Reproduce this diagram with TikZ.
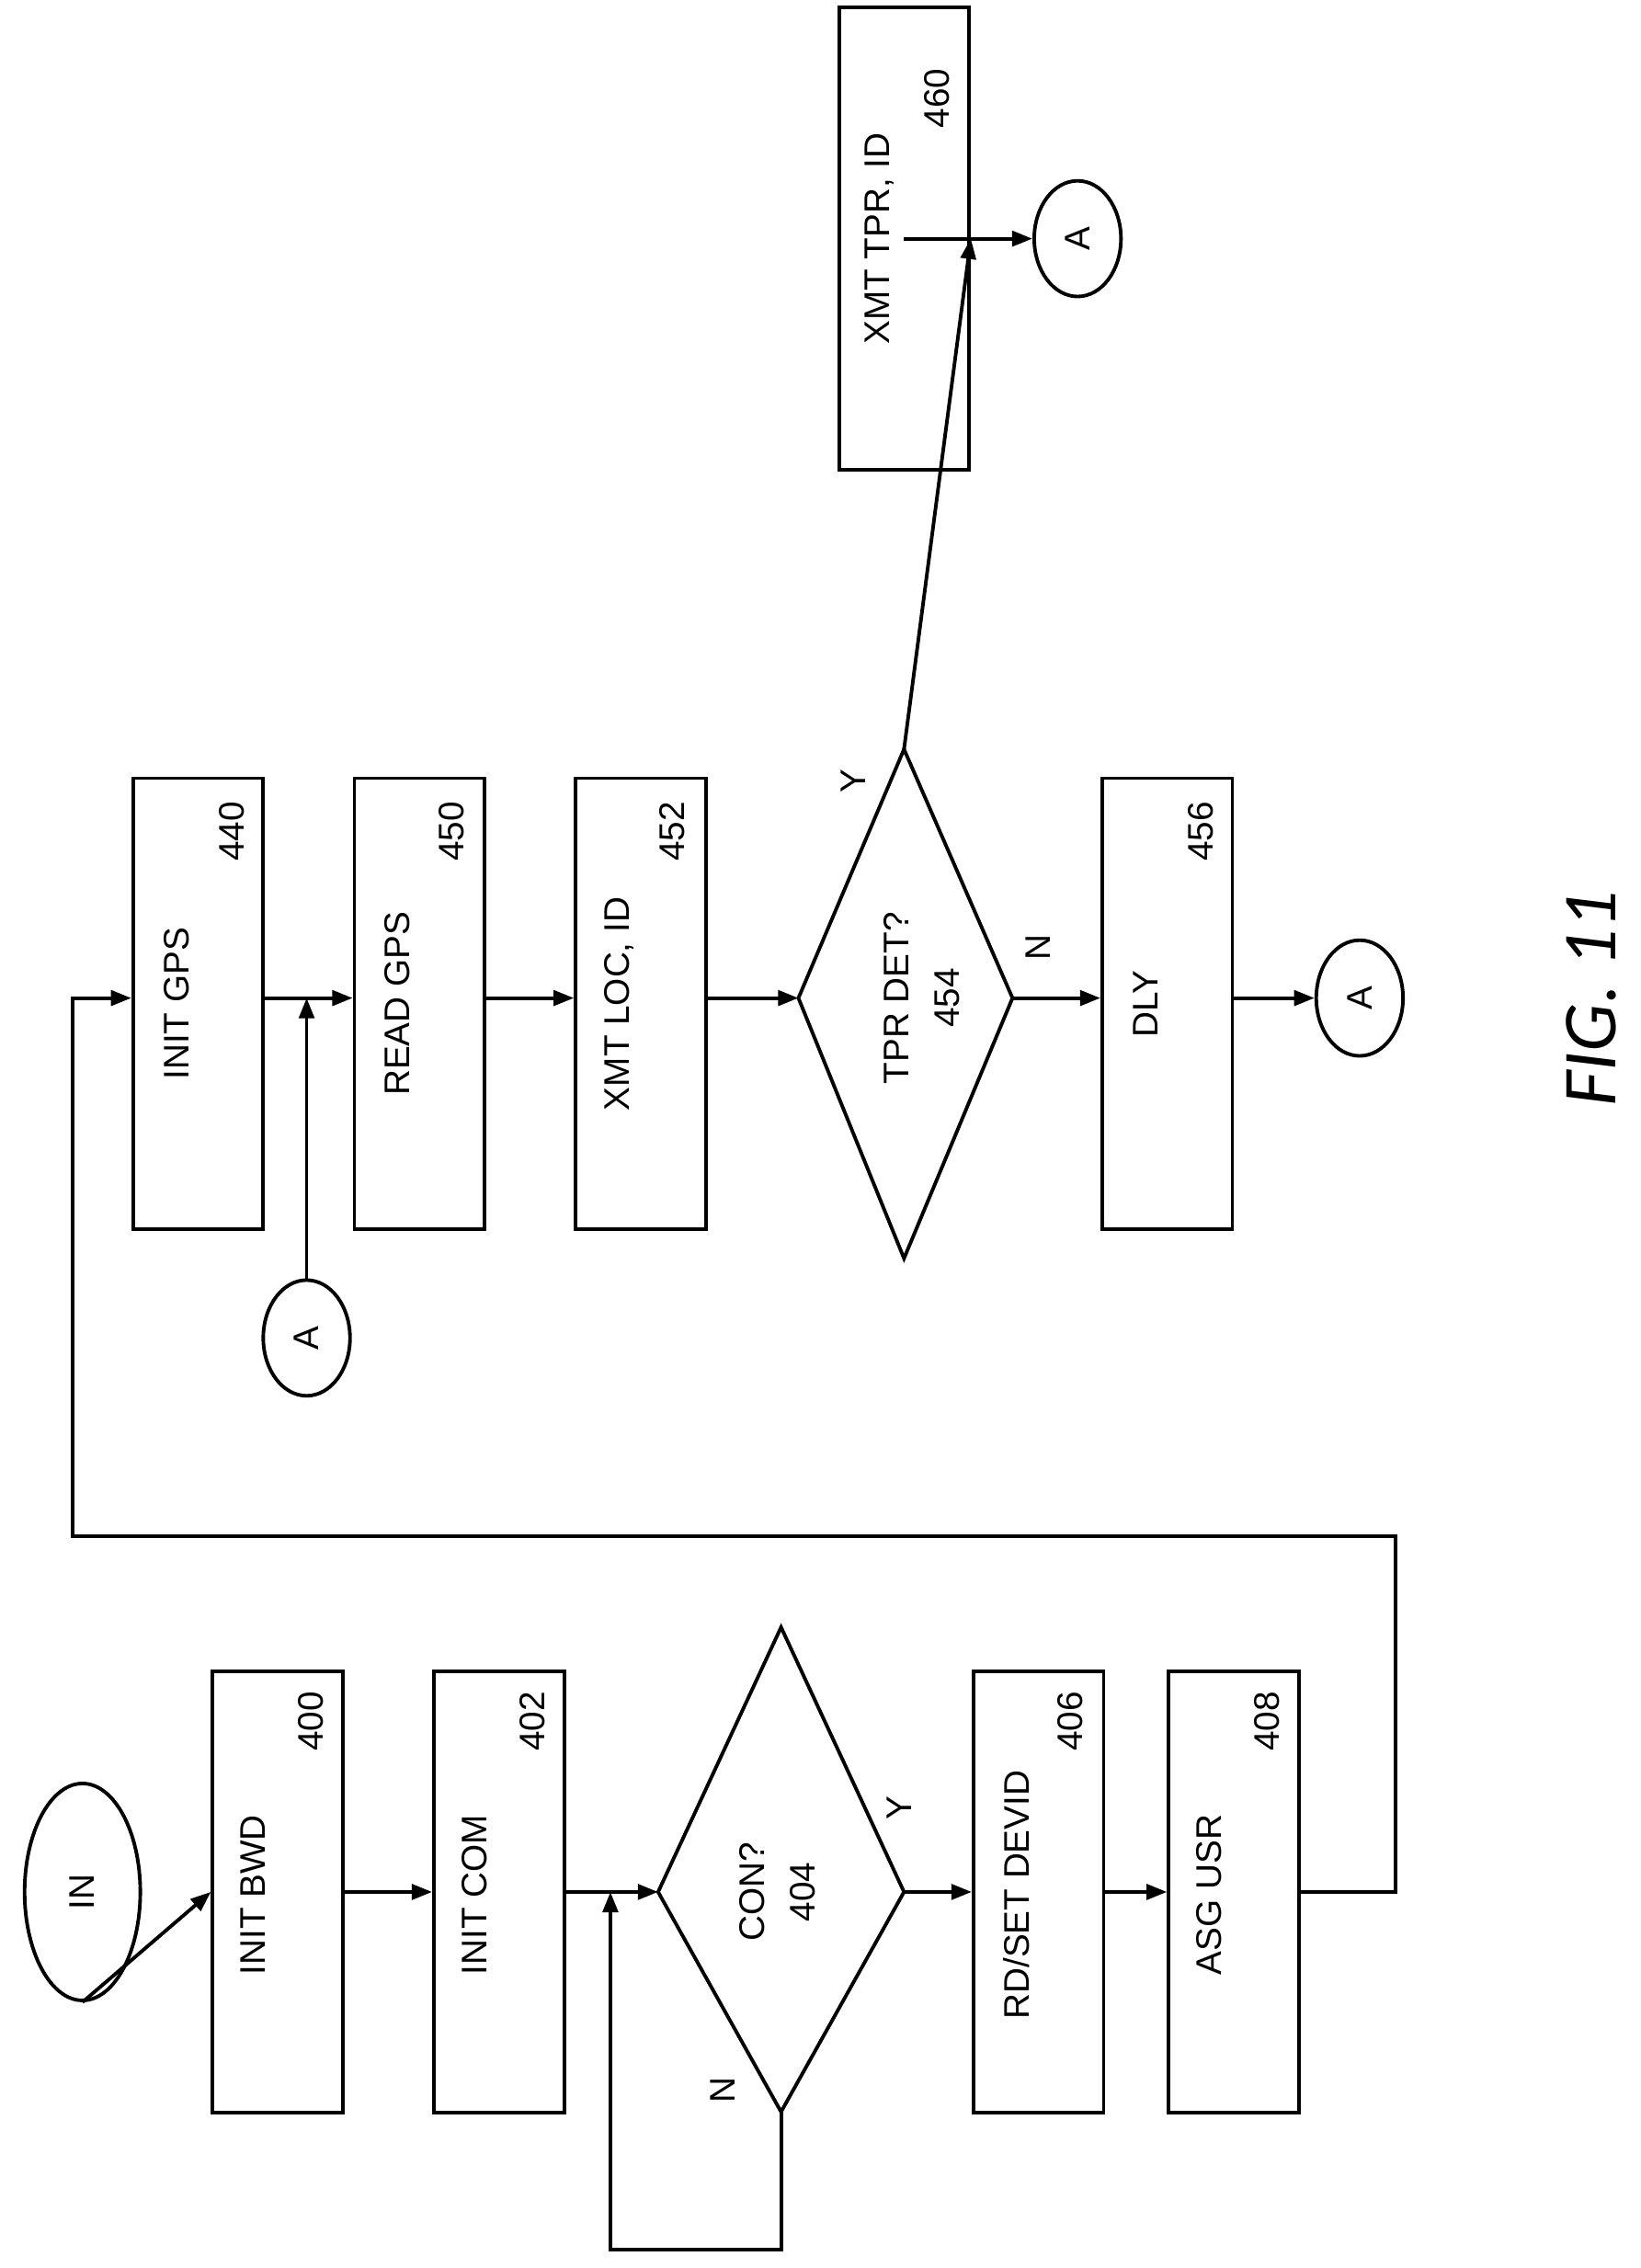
\documentclass[tikz,border=0pt]{standalone}
\usepackage{fontspec}
\setmainfont{Liberation Sans}
\newfontfamily\figfont{Carlito}
\usetikzlibrary{shapes.geometric,arrows.meta}
\begin{document}
\begin{tikzpicture}[x=0.02cm,y=-0.02cm,line width=1.4pt,
  txt/.style={rotate=90,font=\fontsize{14}{16}\selectfont,inner sep=0},
  arr/.style={-{Triangle[length=8pt,width=6pt]}},
  box/.style={draw,minimum width=1.8cm,minimum height=6.1cm}]
\useasboundingbox (0,0) rectangle (1134,1568);
% left column
\node[draw,ellipse,minimum width=1.6cm,minimum height=3cm] (in) at (57,1308) {};
\node[txt] at (57,1308) {IN};
\node[box] (b400) at (192,1308) {};
\node[txt] at (175,1310) {INIT BWD};
\node[txt] at (215,1190) {400};
\node[box] (b402) at (345,1308) {};
\node[txt] at (328,1310) {INIT COM};
\node[txt] at (368,1190) {402};
\coordinate (dt) at (540,1125); \coordinate (dl) at (455,1308);
\coordinate (dr) at (625,1308); \coordinate (db) at (540,1460);
\draw (dt)--(dl)--(db)--(dr)--cycle;
\node[txt] at (520,1308) {CON?};
\node[txt] at (555,1308) {404};
\node[txt] at (622,1250) {Y};
\node[txt] at (500,1445) {N};
\node[box] (b406) at (718,1308) {};
\node[txt] at (703,1310) {RD/SET DEVID};
\node[txt] at (740,1190) {406};
\node[box] (b408) at (853,1308) {};
\node[txt] at (836,1310) {ASG USR};
\node[txt] at (876,1190) {408};
\draw[arr] (in.south) -- (b400.west);
\draw[arr] (b400.east) -- (b402.west);
\draw[arr] (b402.east) -- (dl);
\coordinate (j1) at (422,1308);
\draw[arr] (db) -- (540,1555) -- (422,1555) -- (j1);
\draw[arr] (dr) -- (b406.west);
\draw[arr] (b406.east) -- (b408.west);
% right column
\node[box,minimum height=6.24cm] (b440) at (137,694) {};
\node[txt] at (122,694) {INIT GPS};
\node[txt] at (160,575) {440};
\node[box,minimum height=6.24cm] (b450) at (290,694) {};
\node[txt] at (275,694) {READ GPS};
\node[txt] at (312,575) {450};
\node[box,minimum height=6.24cm] (b452) at (443,694) {};
\node[txt] at (428,694) {XMT LOC, ID};
\node[txt] at (465,575) {452};
\draw[arr] (b408.east) -- (965,1308) -- (965,1062) -- (50,1062) -- (50,690) -- (b440.west|-0,690);
\node[draw,ellipse,minimum width=1.2cm,minimum height=1.6cm] (a1) at (212,925) {};
\node[txt] at (212,925) {A};
\coordinate (j2) at (212,690);
\draw[arr] (a1.north) -- (j2);
\draw[arr] (b440.east|-0,690) -- (b450.west|-0,690);
\draw[arr] (b450.east|-0,690) -- (b452.west|-0,690);
\coordinate (et) at (625,518); \coordinate (el) at (552,690);
\coordinate (er) at (700,690); \coordinate (eb) at (625,870);
\draw (et)--(el)--(eb)--(er)--cycle;
\node[txt] at (620,690) {TPR DET?};
\node[txt] at (655,690) {454};
\node[txt] at (590,540) {Y};
\node[txt] at (718,655) {N};
\draw[arr] (b452.east|-0,690) -- (el);
\node[box,minimum height=6.24cm] (b456) at (807,694) {};
\node[txt] at (792,694) {DLY};
\node[txt] at (830,575) {456};
\draw[arr] (er) -- (b456.west|-0,690);
\node[draw,ellipse,minimum width=1.2cm,minimum height=1.6cm] (a2) at (940,690) {};
\node[txt] at (940,690) {A};
\draw[arr] (b456.east|-0,690) -- (a2.west);
\node[box,minimum height=6.4cm] (b460) at (625,165) {};
\node[txt] at (608,165) {XMT TPR, ID};
\node[txt] at (648,68) {460};
\draw[arr] (et) -- (b460.east);
\node[draw,ellipse,minimum width=1.2cm,minimum height=1.6cm] (a3) at (745,165) {};
\node[txt] at (745,165) {A};
\draw[arr] (b460.south|-0,165) -- (a3.west);
\node[rotate=90,font=\figfont\itshape\fontsize{30}{32}\selectfont] at (1100,690) {FIG. 11};
\end{tikzpicture}
\end{document}
